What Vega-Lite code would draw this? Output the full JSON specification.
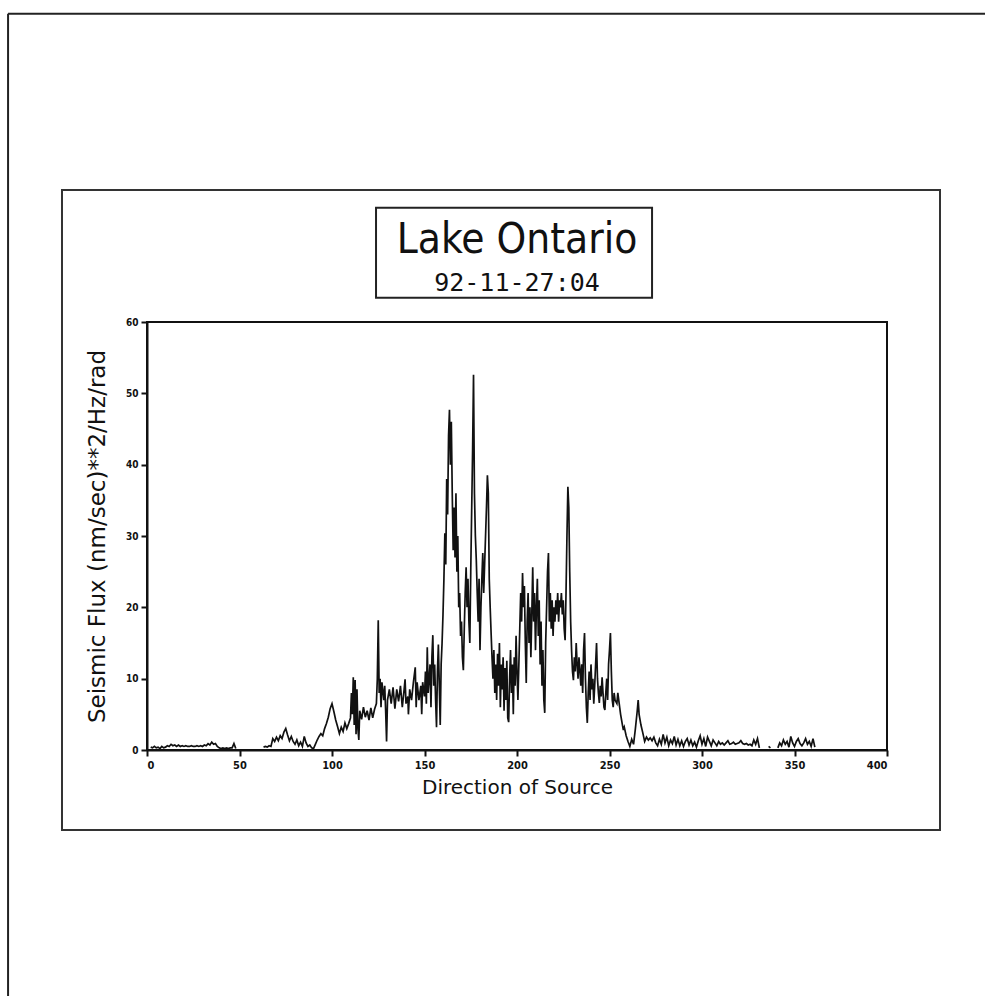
{
  "$schema": "https://vega.github.io/schema/vega-lite/v6.json",
  "autosize": {"type": "none"},
  "width": 740,
  "height": 428,
  "padding": {"left": 147, "top": 322, "right": 98, "bottom": 246},
  "background": "white",
  "config": {
    "view": {"stroke": "#111", "strokeWidth": 2},
    "font": "DejaVu Sans Condensed"
  },
  "datasets": {
    "titles": [
      {"label": "Lake Ontario", "kind": "main"},
      {"label": "92-11-27:04", "kind": "sub"}
    ],
    "flux": [
      {"d":2,"v":0.4,"s":"a"},{"d":3,"v":0.3,"s":"a"},{"d":4,"v":0.5,"s":"a"},{"d":5,"v":0.3,"s":"a"},{"d":6,"v":0.4,"s":"a"},{"d":7,"v":0.2,"s":"a"},{"d":8,"v":0.5,"s":"a"},{"d":9,"v":0.3,"s":"a"},{"d":10,"v":0.4,"s":"a"},{"d":11,"v":0.6,"s":"a"},{"d":12,"v":0.5,"s":"a"},{"d":13,"v":0.8,"s":"a"},{"d":14,"v":0.6,"s":"a"},{"d":15,"v":0.7,"s":"a"},{"d":16,"v":0.5,"s":"a"},{"d":17,"v":0.7,"s":"a"},{"d":18,"v":0.5,"s":"a"},{"d":19,"v":0.6,"s":"a"},{"d":20,"v":0.5,"s":"a"},{"d":21,"v":0.6,"s":"a"},{"d":22,"v":0.5,"s":"a"},{"d":23,"v":0.5,"s":"a"},{"d":24,"v":0.6,"s":"a"},{"d":25,"v":0.5,"s":"a"},{"d":26,"v":0.5,"s":"a"},{"d":27,"v":0.6,"s":"a"},{"d":28,"v":0.5,"s":"a"},{"d":29,"v":0.6,"s":"a"},{"d":30,"v":0.5,"s":"a"},{"d":31,"v":0.7,"s":"a"},{"d":32,"v":0.6,"s":"a"},{"d":33,"v":0.9,"s":"a"},{"d":34,"v":0.7,"s":"a"},{"d":35,"v":1.1,"s":"a"},{"d":36,"v":0.8,"s":"a"},{"d":37,"v":0.9,"s":"a"},{"d":38,"v":0.5,"s":"a"},{"d":39,"v":0.3,"s":"a"},{"d":40,"v":0.2,"s":"a"},{"d":41,"v":0.3,"s":"a"},{"d":42,"v":0.2,"s":"a"},{"d":43,"v":0.3,"s":"a"},{"d":44,"v":0.2,"s":"a"},{"d":45,"v":0.3,"s":"a"},{"d":46,"v":0.3,"s":"a"},{"d":47,"v":0.9,"s":"a"},{"d":48,"v":0.2,"s":"a"},
      {"d":63,"v":0.4,"s":"b"},{"d":64,"v":0.5,"s":"b"},{"d":65,"v":0.4,"s":"b"},{"d":66,"v":0.6,"s":"b"},{"d":67,"v":0.5,"s":"b"},{"d":68,"v":1.6,"s":"b"},{"d":69,"v":1.2,"s":"b"},{"d":70,"v":1.8,"s":"b"},{"d":71,"v":1.3,"s":"b"},{"d":72,"v":2.0,"s":"b"},{"d":73,"v":1.6,"s":"b"},{"d":74,"v":2.5,"s":"b"},{"d":75,"v":3.0,"s":"b"},{"d":76,"v":2.1,"s":"b"},{"d":77,"v":1.3,"s":"b"},{"d":78,"v":1.9,"s":"b"},{"d":79,"v":1.2,"s":"b"},{"d":80,"v":0.8,"s":"b"},{"d":81,"v":1.4,"s":"b"},{"d":82,"v":0.6,"s":"b"},{"d":83,"v":1.1,"s":"b"},{"d":84,"v":0.5,"s":"b"},{"d":85,"v":1.9,"s":"b"},{"d":86,"v":1.0,"s":"b"},{"d":87,"v":0.5,"s":"b"},{"d":88,"v":0.7,"s":"b"},{"d":89,"v":0.3,"s":"b"},{"d":90,"v":0.2,"s":"b"},{"d":91,"v":0.8,"s":"b"},{"d":92,"v":1.4,"s":"b"},{"d":93,"v":1.9,"s":"b"},{"d":94,"v":2.3,"s":"b"},{"d":95,"v":2.0,"s":"b"},{"d":96,"v":3.0,"s":"b"},{"d":97,"v":3.7,"s":"b"},{"d":98,"v":4.6,"s":"b"},{"d":99,"v":5.8,"s":"b"},{"d":100,"v":6.5,"s":"b"},{"d":101,"v":5.4,"s":"b"},{"d":102,"v":4.2,"s":"b"},{"d":103,"v":3.3,"s":"b"},{"d":104,"v":2.3,"s":"b"},{"d":105,"v":3.2,"s":"b"},{"d":106,"v":2.6,"s":"b"},{"d":107,"v":3.8,"s":"b"},{"d":108,"v":3.0,"s":"b"},{"d":109,"v":3.7,"s":"b"},{"d":110,"v":4.5,"s":"b"},{"d":110.5,"v":8.0,"s":"b"},{"d":111,"v":5.0,"s":"b"},{"d":111.5,"v":10.2,"s":"b"},{"d":112,"v":3.5,"s":"b"},{"d":112.5,"v":9.8,"s":"b"},{"d":113,"v":2.2,"s":"b"},{"d":113.5,"v":8.5,"s":"b"},{"d":114,"v":3.0,"s":"b"},{"d":114.5,"v":1.4,"s":"b"},{"d":115,"v":5.5,"s":"b"},{"d":116,"v":4.3,"s":"b"},{"d":117,"v":6.0,"s":"b"},{"d":118,"v":4.6,"s":"b"},{"d":119,"v":5.5,"s":"b"},{"d":120,"v":4.2,"s":"b"},{"d":121,"v":5.9,"s":"b"},{"d":122,"v":4.5,"s":"b"},{"d":123,"v":5.7,"s":"b"},{"d":124,"v":6.5,"s":"b"},{"d":124.5,"v":10.0,"s":"b"},{"d":125,"v":18.2,"s":"b"},{"d":125.5,"v":8.0,"s":"b"},{"d":126,"v":10.0,"s":"b"},{"d":126.5,"v":6.0,"s":"b"},{"d":127,"v":9.5,"s":"b"},{"d":128,"v":7.0,"s":"b"},{"d":128.5,"v":9.0,"s":"b"},{"d":129,"v":5.5,"s":"b"},{"d":129.5,"v":1.2,"s":"b"},{"d":130,"v":7.0,"s":"b"},{"d":131,"v":8.5,"s":"b"},{"d":132,"v":6.5,"s":"b"},{"d":133,"v":8.8,"s":"b"},{"d":134,"v":5.8,"s":"b"},{"d":135,"v":8.5,"s":"b"},{"d":136,"v":6.8,"s":"b"},{"d":137,"v":9.0,"s":"b"},{"d":138,"v":6.0,"s":"b"},{"d":139,"v":8.5,"s":"b"},{"d":139.5,"v":9.9,"s":"b"},{"d":140,"v":6.5,"s":"b"},{"d":141,"v":7.5,"s":"b"},{"d":141.3,"v":5.0,"s":"b"},{"d":142,"v":8.5,"s":"b"},{"d":143,"v":7.0,"s":"b"},{"d":144,"v":9.5,"s":"b"},{"d":145,"v":11.6,"s":"b"},{"d":145.5,"v":6.0,"s":"b"},{"d":146,"v":9.5,"s":"b"},{"d":147,"v":7.0,"s":"b"},{"d":148,"v":9.0,"s":"b"},{"d":148.5,"v":5.0,"s":"b"},{"d":149,"v":9.5,"s":"b"},{"d":150,"v":7.5,"s":"b"},{"d":150.5,"v":11.0,"s":"b"},{"d":151,"v":6.5,"s":"b"},{"d":151.5,"v":14.4,"s":"b"},{"d":152,"v":8.0,"s":"b"},{"d":153,"v":12.0,"s":"b"},{"d":153.5,"v":6.0,"s":"b"},{"d":154,"v":13.0,"s":"b"},{"d":154.5,"v":16.1,"s":"b"},{"d":155,"v":9.0,"s":"b"},{"d":155.5,"v":12.0,"s":"b"},{"d":156,"v":7.0,"s":"b"},{"d":156.5,"v":3.2,"s":"b"},{"d":157,"v":11.0,"s":"b"},{"d":157.5,"v":14.8,"s":"b"},{"d":158,"v":9.0,"s":"b"},{"d":158.5,"v":3.5,"s":"b"},{"d":159,"v":12.0,"s":"b"},{"d":159.5,"v":15.0,"s":"b"},{"d":160,"v":19.0,"s":"b"},{"d":160.5,"v":24.0,"s":"b"},{"d":161,"v":30.4,"s":"b"},{"d":161.5,"v":26.0,"s":"b"},{"d":162,"v":38.0,"s":"b"},{"d":162.5,"v":33.0,"s":"b"},{"d":163,"v":44.0,"s":"b"},{"d":163.5,"v":47.7,"s":"b"},{"d":164,"v":40.0,"s":"b"},{"d":164.5,"v":46.0,"s":"b"},{"d":165,"v":36.0,"s":"b"},{"d":165.5,"v":28.0,"s":"b"},{"d":166,"v":34.0,"s":"b"},{"d":166.5,"v":27.0,"s":"b"},{"d":167,"v":36.0,"s":"b"},{"d":167.5,"v":25.0,"s":"b"},{"d":168,"v":30.0,"s":"b"},{"d":168.5,"v":20.0,"s":"b"},{"d":169,"v":22.0,"s":"b"},{"d":169.5,"v":16.0,"s":"b"},{"d":170,"v":18.0,"s":"b"},{"d":170.5,"v":13.0,"s":"b"},{"d":171,"v":11.2,"s":"b"},{"d":171.5,"v":17.0,"s":"b"},{"d":172,"v":22.0,"s":"b"},{"d":172.5,"v":25.6,"s":"b"},{"d":173,"v":20.0,"s":"b"},{"d":173.5,"v":24.0,"s":"b"},{"d":174,"v":18.0,"s":"b"},{"d":174.5,"v":15.0,"s":"b"},{"d":175,"v":25.0,"s":"b"},{"d":175.5,"v":33.6,"s":"b"},{"d":176,"v":42.0,"s":"b"},{"d":176.5,"v":52.6,"s":"b"},{"d":177,"v":36.0,"s":"b"},{"d":177.5,"v":30.0,"s":"b"},{"d":178,"v":26.6,"s":"b"},{"d":178.5,"v":22.0,"s":"b"},{"d":179,"v":18.0,"s":"b"},{"d":179.5,"v":24.0,"s":"b"},{"d":180,"v":14.0,"s":"b"},{"d":180.5,"v":20.0,"s":"b"},{"d":181,"v":24.0,"s":"b"},{"d":181.5,"v":27.6,"s":"b"},{"d":182,"v":22.0,"s":"b"},{"d":182.5,"v":26.0,"s":"b"},{"d":183,"v":30.0,"s":"b"},{"d":183.5,"v":34.0,"s":"b"},{"d":184,"v":38.5,"s":"b"},{"d":184.5,"v":36.0,"s":"b"},{"d":185,"v":24.0,"s":"b"},{"d":185.5,"v":20.0,"s":"b"},{"d":186,"v":16.4,"s":"b"},{"d":186.5,"v":13.0,"s":"b"},{"d":187,"v":10.0,"s":"b"},{"d":187.5,"v":14.0,"s":"b"},{"d":188,"v":8.0,"s":"b"},{"d":188.5,"v":12.0,"s":"b"},{"d":189,"v":7.0,"s":"b"},{"d":189.5,"v":13.5,"s":"b"},{"d":190,"v":9.0,"s":"b"},{"d":190.5,"v":15.0,"s":"b"},{"d":191,"v":6.0,"s":"b"},{"d":191.5,"v":12.0,"s":"b"},{"d":192,"v":8.5,"s":"b"},{"d":192.5,"v":13.0,"s":"b"},{"d":193,"v":5.5,"s":"b"},{"d":193.5,"v":11.5,"s":"b"},{"d":194,"v":7.0,"s":"b"},{"d":194.5,"v":12.5,"s":"b"},{"d":195,"v":4.5,"s":"b"},{"d":195.5,"v":3.9,"s":"b"},{"d":196,"v":10.0,"s":"b"},{"d":196.5,"v":14.0,"s":"b"},{"d":197,"v":8.0,"s":"b"},{"d":197.5,"v":12.0,"s":"b"},{"d":198,"v":5.0,"s":"b"},{"d":198.5,"v":13.0,"s":"b"},{"d":199,"v":9.0,"s":"b"},{"d":199.5,"v":16.0,"s":"b"},{"d":200,"v":11.0,"s":"b"},{"d":200.5,"v":7.0,"s":"b"},{"d":201,"v":12.0,"s":"b"},{"d":201.5,"v":17.0,"s":"b"},{"d":202,"v":22.0,"s":"b"},{"d":202.5,"v":18.0,"s":"b"},{"d":203,"v":24.8,"s":"b"},{"d":203.5,"v":20.0,"s":"b"},{"d":204,"v":23.0,"s":"b"},{"d":204.5,"v":15.0,"s":"b"},{"d":205,"v":9.4,"s":"b"},{"d":205.5,"v":18.0,"s":"b"},{"d":206,"v":22.0,"s":"b"},{"d":206.5,"v":15.0,"s":"b"},{"d":207,"v":20.0,"s":"b"},{"d":207.5,"v":13.0,"s":"b"},{"d":208,"v":19.0,"s":"b"},{"d":208.5,"v":25.6,"s":"b"},{"d":209,"v":18.0,"s":"b"},{"d":209.5,"v":22.0,"s":"b"},{"d":210,"v":14.0,"s":"b"},{"d":210.5,"v":20.0,"s":"b"},{"d":211,"v":24.0,"s":"b"},{"d":211.5,"v":16.0,"s":"b"},{"d":212,"v":21.0,"s":"b"},{"d":212.5,"v":12.0,"s":"b"},{"d":213,"v":18.0,"s":"b"},{"d":213.5,"v":9.0,"s":"b"},{"d":214,"v":14.0,"s":"b"},{"d":214.5,"v":7.0,"s":"b"},{"d":215,"v":5.2,"s":"b"},{"d":215.5,"v":15.0,"s":"b"},{"d":216,"v":20.0,"s":"b"},{"d":216.5,"v":25.0,"s":"b"},{"d":217,"v":27.6,"s":"b"},{"d":217.5,"v":18.0,"s":"b"},{"d":218,"v":22.0,"s":"b"},{"d":218.5,"v":17.0,"s":"b"},{"d":219,"v":21.0,"s":"b"},{"d":219.5,"v":16.0,"s":"b"},{"d":220,"v":20.0,"s":"b"},{"d":220.5,"v":18.0,"s":"b"},{"d":221,"v":21.0,"s":"b"},{"d":221.5,"v":19.0,"s":"b"},{"d":222,"v":22.0,"s":"b"},{"d":222.5,"v":18.0,"s":"b"},{"d":223,"v":21.0,"s":"b"},{"d":223.5,"v":20.0,"s":"b"},{"d":224,"v":22.0,"s":"b"},{"d":224.5,"v":19.0,"s":"b"},{"d":225,"v":21.0,"s":"b"},{"d":225.5,"v":17.0,"s":"b"},{"d":226,"v":15.4,"s":"b"},{"d":226.5,"v":22.0,"s":"b"},{"d":227,"v":30.0,"s":"b"},{"d":227.5,"v":36.9,"s":"b"},{"d":228,"v":34.0,"s":"b"},{"d":228.5,"v":25.0,"s":"b"},{"d":229,"v":18.0,"s":"b"},{"d":229.5,"v":14.0,"s":"b"},{"d":230,"v":11.0,"s":"b"},{"d":230.5,"v":9.8,"s":"b"},{"d":231,"v":13.0,"s":"b"},{"d":231.5,"v":11.0,"s":"b"},{"d":232,"v":15.0,"s":"b"},{"d":232.5,"v":12.0,"s":"b"},{"d":233,"v":10.0,"s":"b"},{"d":233.5,"v":13.0,"s":"b"},{"d":234,"v":11.2,"s":"b"},{"d":234.5,"v":9.0,"s":"b"},{"d":235,"v":12.0,"s":"b"},{"d":235.5,"v":8.0,"s":"b"},{"d":236,"v":14.0,"s":"b"},{"d":236.5,"v":16.4,"s":"b"},{"d":237,"v":10.0,"s":"b"},{"d":237.5,"v":6.0,"s":"b"},{"d":238,"v":3.8,"s":"b"},{"d":238.5,"v":8.0,"s":"b"},{"d":239,"v":11.0,"s":"b"},{"d":239.5,"v":7.0,"s":"b"},{"d":240,"v":12.0,"s":"b"},{"d":240.5,"v":8.5,"s":"b"},{"d":241,"v":10.0,"s":"b"},{"d":241.5,"v":6.5,"s":"b"},{"d":242,"v":9.0,"s":"b"},{"d":242.5,"v":12.0,"s":"b"},{"d":243,"v":15.0,"s":"b"},{"d":243.5,"v":10.0,"s":"b"},{"d":244,"v":8.0,"s":"b"},{"d":244.5,"v":6.6,"s":"b"},{"d":245,"v":9.0,"s":"b"},{"d":245.5,"v":7.5,"s":"b"},{"d":246,"v":10.2,"s":"b"},{"d":246.5,"v":8.0,"s":"b"},{"d":247,"v":6.0,"s":"b"},{"d":247.5,"v":5.6,"s":"b"},{"d":248,"v":8.0,"s":"b"},{"d":248.5,"v":10.0,"s":"b"},{"d":249,"v":7.0,"s":"b"},{"d":249.5,"v":12.0,"s":"b"},{"d":250,"v":14.0,"s":"b"},{"d":250.5,"v":16.4,"s":"b"},{"d":251,"v":11.0,"s":"b"},{"d":251.5,"v":7.0,"s":"b"},{"d":252,"v":6.0,"s":"b"},{"d":252.5,"v":8.0,"s":"b"},{"d":253,"v":7.0,"s":"b"},{"d":254,"v":6.5,"s":"b"},{"d":254.5,"v":8.0,"s":"b"},{"d":255,"v":7.0,"s":"b"},{"d":256,"v":5.0,"s":"b"},{"d":257,"v":3.5,"s":"b"},{"d":257.5,"v":2.8,"s":"b"},{"d":258,"v":3.2,"s":"b"},{"d":259,"v":2.0,"s":"b"},{"d":260,"v":1.2,"s":"b"},{"d":261,"v":0.5,"s":"b"},{"d":262,"v":1.5,"s":"b"},{"d":263,"v":0.8,"s":"b"},{"d":264,"v":3.0,"s":"b"},{"d":265,"v":5.5,"s":"b"},{"d":265.5,"v":7.0,"s":"b"},{"d":266,"v":5.0,"s":"b"},{"d":267,"v":3.5,"s":"b"},{"d":268,"v":2.4,"s":"b"},{"d":269,"v":1.2,"s":"b"},{"d":270,"v":1.8,"s":"b"},{"d":271,"v":1.4,"s":"b"},{"d":272,"v":1.7,"s":"b"},{"d":273,"v":1.3,"s":"b"},{"d":274,"v":1.8,"s":"b"},{"d":275,"v":1.0,"s":"b"},{"d":276,"v":0.6,"s":"b"},{"d":277,"v":1.5,"s":"b"},{"d":278,"v":0.8,"s":"b"},{"d":279,"v":2.2,"s":"b"},{"d":280,"v":1.0,"s":"b"},{"d":281,"v":1.8,"s":"b"},{"d":282,"v":0.6,"s":"b"},{"d":283,"v":1.4,"s":"b"},{"d":284,"v":0.9,"s":"b"},{"d":285,"v":1.9,"s":"b"},{"d":286,"v":0.7,"s":"b"},{"d":287,"v":1.5,"s":"b"},{"d":288,"v":0.6,"s":"b"},{"d":289,"v":1.3,"s":"b"},{"d":290,"v":0.5,"s":"b"},{"d":291,"v":1.2,"s":"b"},{"d":292,"v":1.6,"s":"b"},{"d":293,"v":0.7,"s":"b"},{"d":294,"v":1.4,"s":"b"},{"d":295,"v":0.6,"s":"b"},{"d":296,"v":1.1,"s":"b"},{"d":297,"v":0.4,"s":"b"},{"d":298,"v":1.3,"s":"b"},{"d":299,"v":2.0,"s":"b"},{"d":300,"v":0.8,"s":"b"},{"d":301,"v":1.6,"s":"b"},{"d":302,"v":0.5,"s":"b"},{"d":303,"v":1.8,"s":"b"},{"d":304,"v":1.2,"s":"b"},{"d":305,"v":0.6,"s":"b"},{"d":306,"v":1.4,"s":"b"},{"d":307,"v":1.0,"s":"b"},{"d":308,"v":0.6,"s":"b"},{"d":309,"v":1.2,"s":"b"},{"d":310,"v":0.8,"s":"b"},{"d":311,"v":1.0,"s":"b"},{"d":312,"v":0.7,"s":"b"},{"d":313,"v":1.0,"s":"b"},{"d":314,"v":1.3,"s":"b"},{"d":315,"v":0.8,"s":"b"},{"d":316,"v":0.9,"s":"b"},{"d":317,"v":1.1,"s":"b"},{"d":318,"v":0.8,"s":"b"},{"d":319,"v":0.9,"s":"b"},{"d":320,"v":1.0,"s":"b"},{"d":321,"v":1.3,"s":"b"},{"d":322,"v":0.9,"s":"b"},{"d":323,"v":0.8,"s":"b"},{"d":324,"v":0.9,"s":"b"},{"d":325,"v":0.7,"s":"b"},{"d":326,"v":0.8,"s":"b"},{"d":327,"v":0.6,"s":"b"},{"d":328,"v":1.4,"s":"b"},{"d":329,"v":0.8,"s":"b"},{"d":330,"v":1.6,"s":"b"},{"d":331,"v":0.3,"s":"b"},
      {"d":336,"v":0.5,"s":"c"},{"d":337,"v":0.3,"s":"c"},
      {"d":341,"v":0.3,"s":"d"},{"d":342,"v":1.0,"s":"d"},{"d":343,"v":0.6,"s":"d"},{"d":344,"v":1.4,"s":"d"},{"d":345,"v":0.8,"s":"d"},{"d":346,"v":1.2,"s":"d"},{"d":347,"v":0.4,"s":"d"},{"d":348,"v":1.9,"s":"d"},{"d":349,"v":1.0,"s":"d"},{"d":350,"v":0.5,"s":"d"},{"d":351,"v":1.2,"s":"d"},{"d":352,"v":1.6,"s":"d"},{"d":353,"v":0.9,"s":"d"},{"d":354,"v":0.6,"s":"d"},{"d":355,"v":1.0,"s":"d"},{"d":356,"v":1.6,"s":"d"},{"d":357,"v":0.8,"s":"d"},{"d":358,"v":1.2,"s":"d"},{"d":359,"v":0.5,"s":"d"},{"d":360,"v":1.6,"s":"d"},{"d":361,"v":0.4,"s":"d"}
    ]
  },
  "layer": [
    {
      "data": {"values": [{}]},
      "mark": {"type": "rule", "stroke": "#222", "strokeWidth": 2},
      "encoding": {
        "x": {"datum": -75.1, "type": "quantitative"},
        "x2": {"datum": 453},
        "y": {"datum": 103.2, "type": "quantitative"}
      }
    },
    {
      "data": {"values": [{}]},
      "mark": {"type": "rule", "stroke": "#222", "strokeWidth": 2},
      "encoding": {
        "x": {"datum": -75.1, "type": "quantitative"},
        "y": {"datum": 103.2, "type": "quantitative"},
        "y2": {"datum": -34.5}
      }
    },
    {
      "data": {"values": [{}]},
      "mark": {"type": "rect", "fill": null, "stroke": "#333", "strokeWidth": 2},
      "encoding": {
        "x": {"datum": -45.95, "type": "quantitative"},
        "x2": {"datum": 428.65},
        "y": {"datum": 78.5, "type": "quantitative"},
        "y2": {"datum": -11.2}
      }
    },
    {
      "data": {"values": [{}]},
      "mark": {"type": "rect", "fill": null, "stroke": "#222", "strokeWidth": 2},
      "encoding": {
        "x": {"datum": 123.8, "type": "quantitative"},
        "x2": {"datum": 273.0},
        "y": {"datum": 76.0, "type": "quantitative"},
        "y2": {"datum": 63.4}
      }
    },
    {
      "data": {"name": "titles"},
      "transform": [{"filter": "datum.kind === 'main'"}],
      "mark": {"type": "text", "font": "DejaVu Sans Condensed", "fontSize": 42, "color": "#111", "align": "center", "baseline": "alphabetic"},
      "encoding": {
        "text": {"field": "label"},
        "x": {"datum": 200, "type": "quantitative"},
        "y": {"datum": 69.7, "type": "quantitative"}
      }
    },
    {
      "data": {"name": "titles"},
      "transform": [{"filter": "datum.kind === 'sub'"}],
      "mark": {"type": "text", "font": "DejaVu Sans Mono", "fontSize": 25, "color": "#111", "align": "center", "baseline": "alphabetic"},
      "encoding": {
        "text": {"field": "label"},
        "x": {"datum": 200, "type": "quantitative"},
        "y": {"datum": 64.4, "type": "quantitative"}
      }
    },
    {
      "data": {"name": "flux"},
      "mark": {"type": "line", "stroke": "#111", "strokeWidth": 1.7, "strokeJoin": "miter"},
      "encoding": {
        "x": {
          "field": "d", "type": "quantitative",
          "scale": {"domain": [0, 400], "nice": false, "zero": false},
          "axis": {
            "values": [0, 50, 100, 150, 200, 250, 300, 350, 400],
            "title": "Direction of Source",
            "grid": false,
            "domainColor": "#111", "domainWidth": 2,
            "tickColor": "#111", "tickWidth": 2, "tickSize": 6,
            "labelFont": "DejaVu Sans Condensed", "labelFontWeight": "bold", "labelFontSize": 11, "labelColor": "#111", "labelPadding": 3,
            "titleFont": "DejaVu Sans", "titleFontSize": 20, "titleFontWeight": "normal", "titleColor": "#111", "titlePadding": 7
          }
        },
        "y": {
          "field": "v", "type": "quantitative",
          "scale": {"domain": [0, 60], "nice": false},
          "axis": {
            "values": [0, 10, 20, 30, 40, 50, 60],
            "title": "Seismic Flux (nm/sec)**2/Hz/rad",
            "grid": false,
            "domainColor": "#111", "domainWidth": 2,
            "tickColor": "#111", "tickWidth": 2, "tickSize": 6,
            "labelFont": "DejaVu Sans Condensed", "labelFontWeight": "bold", "labelFontSize": 10, "labelColor": "#111", "labelPadding": 3,
            "titleFont": "DejaVu Sans", "titleFontSize": 23, "titleFontWeight": "normal", "titleColor": "#111", "titlePadding": 16
          }
        },
        "detail": {"field": "s", "type": "nominal"}
      }
    }
  ]
}
